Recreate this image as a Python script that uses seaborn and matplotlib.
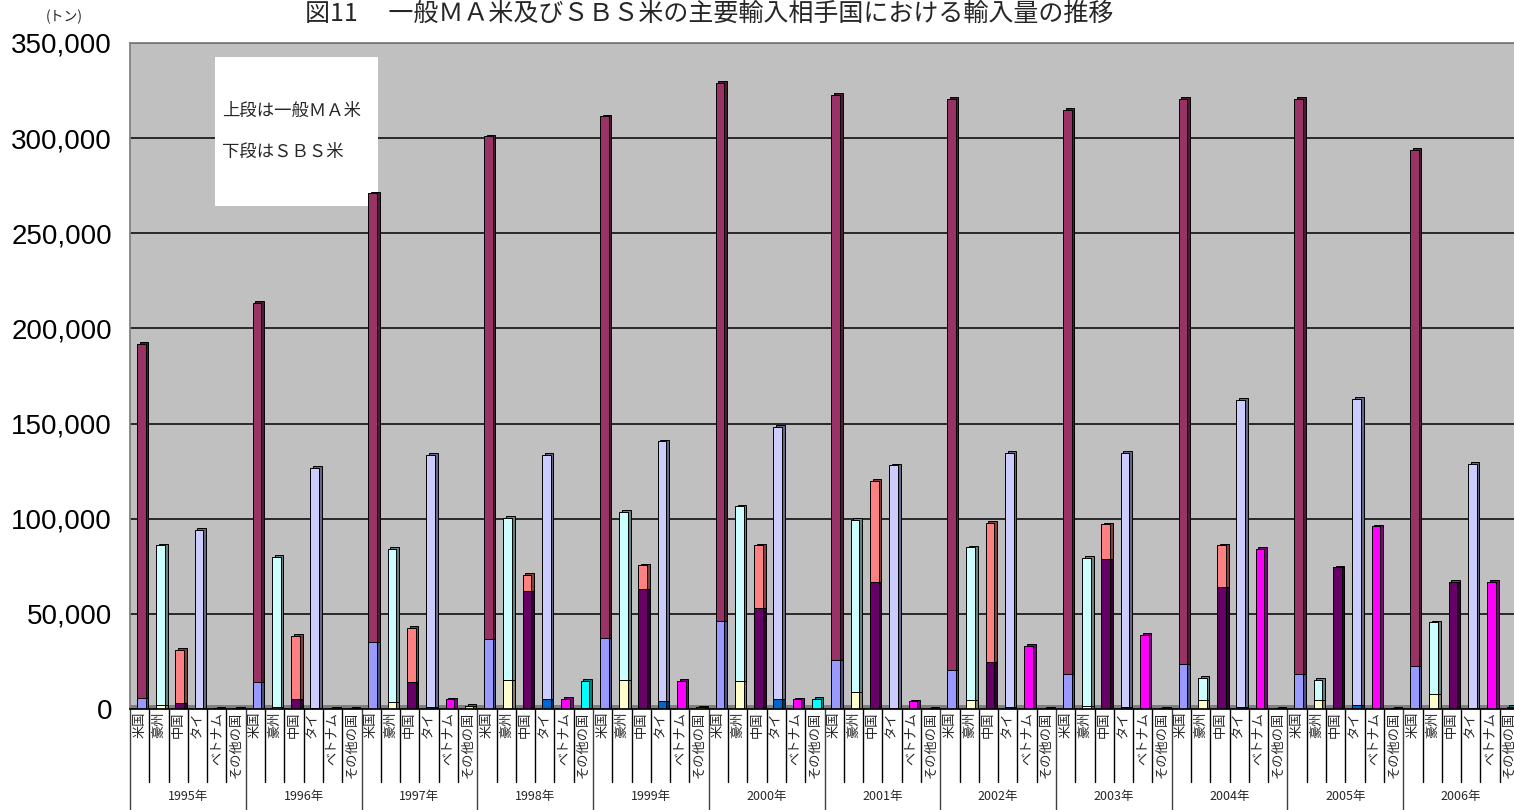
import matplotlib
matplotlib.use("Agg")
import matplotlib.pyplot as plt
import matplotlib.colors as mcolors
from matplotlib.patches import Rectangle
import seaborn as sns
import pandas as pd

# ─────────────────────────────────────────
# DATA (トン) — lower segment = SBS米, upper segment = 一般MA米
# ─────────────────────────────────────────
years = [1995, 1996, 1997, 1998, 1999, 2000, 2001, 2002, 2003, 2004, 2005, 2006]
countries = ["米国", "豪州", "中国", "タイ", "ベトナム", "その他の国"]

us_sbs = [6000, 14000, 35000, 37000, 37500, 46500, 25500, 20500, 18500, 23500, 18500, 22500]
us_ma = [186000, 199500, 236000, 264000, 274000, 282500, 297300, 300000, 296500, 297000, 302000, 271500]

au_sbs = [2000, 1000, 3500, 15300, 15100, 14500, 9000, 4500, 1500, 4600, 4500, 8000]
au_ma = [84000, 79000, 80500, 85200, 88400, 92000, 90500, 80500, 78000, 11900, 11000, 37500]

cn_sbs = [3000, 5500, 14000, 62000, 63000, 53300, 66500, 24500, 79000, 64000, 74500, 67000]
cn_ma = [28000, 33000, 28500, 8500, 12500, 32700, 53500, 73500, 18000, 22000, 0, 0]

th_sbs = [300, 300, 800, 5500, 4200, 5100, 500, 800, 800, 800, 2000, 500]
th_ma = [93700, 126400, 132900, 128100, 136500, 143100, 127500, 133900, 133900, 161700, 161000, 128500]

vn_sbs = [300, 300, 0, 0, 0, 0, 0, 0, 0, 0, 0, 0]
vn_ma = [0, 0, 5000, 5500, 14700, 5000, 4000, 33300, 39000, 84000, 96000, 66700]

ot_sbs = [0, 0, 1500, 500, 800, 0, 0, 0, 0, 300, 0, 500]
ot_ma = [300, 400, 0, 14400, 0, 5500, 300, 300, 300, 0, 300, 500]

sbs_colors = ["#9999FF", "#FFFFCC", "#660066", "#0066CC", "#000080", "#FFFF00"]
ma_colors = ["#993366", "#CCFFFF", "#FF8080", "#CCCCFF", "#FF00FF", "#00FFFF"]

sbs_all = [us_sbs, au_sbs, cn_sbs, th_sbs, vn_sbs, ot_sbs]
ma_all = [us_ma, au_ma, cn_ma, th_ma, vn_ma, ot_ma]

rows = []
for yi, year in enumerate(years):
    for ci, country in enumerate(countries):
        s = sbs_all[ci][yi]
        m = ma_all[ci][yi]
        rows.append({"key": f"{year}_{country}", "year": year, "country": country,
                     "sbs": s, "total": s + m})
df = pd.DataFrame(rows)
order = list(df["key"])


def darker(c, f=0.5):
    r, g, b = mcolors.to_rgb(c)
    return (r * f, g * f, b * f)


# ─────────────────────────────────────────
# FIGURE
# ─────────────────────────────────────────
sns.set_theme(style="white")
plt.rcParams["font.family"] = ["Noto Sans CJK JP", "DejaVu Sans"]

fig = plt.figure(figsize=(15.14, 8.10), dpi=100)
ax = fig.add_axes([130 / 1514, (810 - 709) / 810, (1519 - 130) / 1514, (709 - 43) / 810])
ax.set_facecolor("#C0C0C0")


def draw_layer(col, colors, shift, extra=0):
    n0 = len(ax.patches)
    sns.barplot(data=df, x="key", y=col, hue="country", order=order, hue_order=countries,
                palette=dict(zip(countries, colors)), dodge=False, width=0.45,
                saturation=1, edgecolor="black", linewidth=0.7, legend=False,
                errorbar=None, ax=ax)
    for p in ax.patches[n0:]:
        p.set_x(p.get_x() + shift)
        p.set_zorder(2)
        if extra:
            p.set_height(p.get_height() + extra)


# side faces first (3D look), then front faces
draw_layer("total", [darker(c) for c in ma_colors], 0.22, extra=900)
draw_layer("sbs", [darker(c) for c in sbs_colors], 0.22)
draw_layer("total", ma_colors, 0.08)
draw_layer("sbs", sbs_colors, 0.08)

# floor strip
ax.axhspan(0, 2300, color="#808080", zorder=0.9, lw=0)

ax.set_xlim(-0.5, len(order) - 0.5)
ax.set_ylim(0, 350000)
yt = list(range(0, 350001, 50000))
ax.set_yticks(yt)
ax.set_yticklabels([f"{t:,}" for t in yt], fontsize=20, fontfamily="Liberation Sans")
ax.tick_params(axis="y", length=0, pad=13, colors="black")
ax.set_xticks([])
ax.set_xlabel("")
ax.set_ylabel("")
ax.yaxis.grid(True, color="black", linewidth=1.1)
ax.set_axisbelow(True)
for side in ["top", "left", "right"]:
    ax.spines[side].set_color("#808080")
ax.spines["bottom"].set_color("black")
ax.spines["right"].set_visible(False)

# note box
ax.add_patch(Rectangle((0.0612, 0.7553), 0.1173, 0.2237, transform=ax.transAxes,
                       facecolor="white", edgecolor="none", zorder=0.95))
ax.text(0.0662, 0.898, "上段は一般ＭＡ米", transform=ax.transAxes, fontsize=12.5,
        ha="left", va="center", zorder=3)
ax.text(0.0662, 0.8363, "下段はＳＢＳ米", transform=ax.transAxes, fontsize=12.5,
        ha="left", va="center", zorder=3)

# two-level category axis
tr = ax.get_xaxis_transform()
n_c = len(countries)
for k, key in enumerate(order):
    ax.text(k, -0.004, df["country"][k], transform=tr, rotation=90, ha="center",
            va="top", fontsize=9.5, clip_on=False)
    is_year_edge = (k % n_c == 0)
    ax.plot([k - 0.5, k - 0.5], [0, -0.2 if is_year_edge else -0.11], transform=tr,
            color="#404040" if is_year_edge else "black", lw=1.0, clip_on=False)
for yi, year in enumerate(years):
    ax.text(yi * n_c + (n_c - 1) / 2, -0.132, f"{year}年", transform=tr, ha="center",
            va="center", fontsize=9, clip_on=False)

fig.text(305 / 1514, 1 - 14 / 810,
         "図11　 一般ＭＡ米及びＳＢＳ米の主要輸入相手国における輸入量の推移",
         ha="left", va="center", fontsize=18)
fig.text(64 / 1514, 1 - 17 / 810, "(トン)", ha="center", va="center", fontsize=10)

plt.savefig("out.png", dpi=100)
plt.close()
